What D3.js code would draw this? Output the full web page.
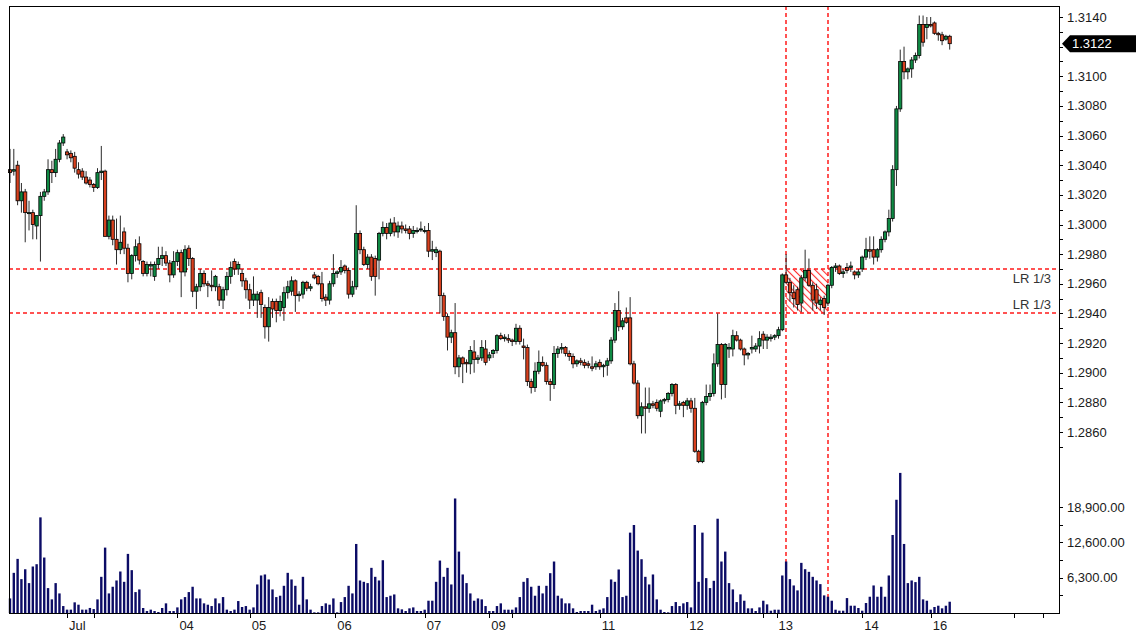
<!DOCTYPE html>
<html>
<head>
<meta charset="utf-8">
<script src="https://cdnjs.cloudflare.com/ajax/libs/d3/7.8.5/d3.min.js"></script>
<style>
body { margin: 0; background: #fff; }
text { font-family: "Liberation Sans", Arial, sans-serif; font-size: 13px; fill: #1a1a1a; }
</style>
</head>
<body>
<svg id="chart" width="1136" height="633"></svg>
<script>

// hourly candles
var opens = [
1.3037,1.3036,1.3040,1.3016,1.3022,1.3008,1.3008,1.2999,1.3006,1.3019,
1.3022,1.3037,1.3035,1.3044,1.3055,1.3049,1.3048,1.3046,1.3037,1.3036,
1.3032,1.3030,1.3027,1.3025,1.3035,1.3036,1.2992,1.3003,1.2990,1.2983,
1.2995,1.2984,1.2967,1.2979,1.2987,1.2975,1.2967,1.2972,1.2965,1.2973,
1.2977,1.2979,1.2974,1.2966,1.2975,1.2981,1.2968,1.2984,1.2977,1.2955,
1.2958,1.2967,1.2960,1.2959,1.2958,1.2958,1.2949,1.2956,1.2965,1.2975,
1.2970,1.2967,1.2962,1.2956,
1.2949,1.2949,1.2954,1.2944,1.2931,1.2948,1.2948,1.2942,1.2944,1.2954,
1.2955,1.2962,1.2952,1.2953,1.2961,1.2957,1.2966,1.2965,1.2960,1.2951,
1.2949,1.2960,1.2967,1.2968,1.2972,1.2969,1.2953,1.2958,1.2994,1.2983,
1.2973,1.2978,1.2977,1.2976,1.2994,1.2998,1.2994,1.3001,1.2995,1.2999,
1.2997,1.2997,1.2994,1.2996,1.2997,1.2996,1.2996,1.2982,1.2981,
1.2982,1.2952,1.2938,1.2924,1.2927,1.2904,1.2910,1.2907,1.2906,1.2914,
1.2909,1.2910,1.2916,1.2910,1.2913,1.2915,1.2925,1.2923,1.2923,1.2922,
1.2921,1.2930,1.2918,1.2917,1.2894,1.2890,1.2901,1.2907,1.2905,1.2894,
1.2892,1.2913,1.2916,1.2917,1.2913,1.2911,1.2906,1.2908,1.2907,1.2906,
1.2904,1.2904,1.2907,1.2904,1.2905,1.2908,1.2922,1.2942,1.2931,1.2937,
1.2937,1.2906,1.2893,1.2871,1.2877,1.2876,1.2879,1.2880,
1.2874,1.2881,1.2882,1.2886,1.2892,1.2878,1.2880,1.2878,1.2881,1.2876,1.2847,
1.2840,1.2880,1.2884,1.2886,1.2906,1.2919,1.2892,1.2916,1.2916,1.2925,
1.2922,1.2916,1.2912,1.2916,1.2916,1.2918,1.2926,1.2922,1.2923,1.2924,1.2925,1.2929,
1.2966,1.2961,1.2954,1.2956,1.2947,1.2964,1.2969,1.2959,1.2956,1.2946,
1.2950,1.2947,1.2959,1.2971,1.2972,1.2967,1.2971,1.2971,1.2968,1.2966,
1.2970,1.2978,1.2983,1.2983,1.2978,1.2983,1.2990,1.2995,1.3004,1.3037,
1.3078,1.3110,1.3103,1.3105,1.3111,1.3114,1.3135,1.3133,1.3135,1.3136,
1.3129,1.3128,1.3125,1.3127
];

var highs = [
1.3051,1.3051,1.3043,1.3028,1.3024,1.3016,1.3010,1.3006,1.3022,1.3024,
1.3044,1.3043,1.3051,1.3057,1.3061,1.3051,1.3050,1.3049,1.3042,1.3038,
1.3036,1.3032,1.3028,1.3038,1.3053,1.3037,1.3006,1.3006,1.3004,1.3006,
1.2998,1.2987,1.2980,1.2990,1.2992,1.2976,1.2975,1.2975,1.2975,1.2985,
1.2985,1.2982,1.2976,1.2982,1.2983,1.2983,1.2986,1.2986,1.2978,1.2960,
1.2970,1.2969,1.2962,1.2969,1.2966,1.2960,1.2958,1.2968,1.2975,1.2977,
1.2975,1.2970,1.2964,1.2960,
1.2965,1.2955,1.2956,1.2946,1.2951,1.2950,1.2950,1.2952,1.2958,1.2962,
1.2965,1.2963,1.2955,1.2962,1.2962,1.2960,1.2968,1.2966,1.2968,1.2953,
1.2962,1.2980,1.2969,1.2976,1.2973,1.2971,1.2962,1.3013,1.2996,1.2985,
1.2980,1.2980,1.2979,1.2995,1.3002,1.3001,1.3004,1.3005,1.3002,1.3002,
1.3000,1.2999,1.2999,1.2998,1.3002,1.2999,1.3001,1.2989,1.2985,
1.2983,1.2954,1.2940,1.2929,1.2947,1.2912,1.2911,1.2909,1.2918,1.2922,
1.2912,1.2922,1.2922,1.2914,1.2916,1.2926,1.2927,1.2926,1.2926,1.2923,
1.2933,1.2932,1.2923,1.2919,1.2896,1.2907,1.2915,1.2911,1.2907,1.2896,
1.2918,1.2918,1.2920,1.2918,1.2915,1.2913,1.2909,1.2910,1.2909,1.2908,
1.2911,1.2908,1.2909,1.2906,1.2910,1.2924,1.2947,1.2955,1.2937,1.2944,
1.2951,1.2908,1.2895,1.2880,1.2890,1.2890,1.2881,1.2882,
1.2882,1.2883,1.2887,1.2893,1.2893,1.2881,1.2881,1.2883,1.2883,1.2883,1.2848,
1.2881,1.2892,1.2892,1.2913,1.2940,1.2920,1.2920,1.2920,1.2929,1.2928,
1.2923,1.2917,1.2914,1.2925,1.2920,1.2928,1.2928,1.2926,1.2926,1.2926,1.2931,1.2967,
1.2980,1.2964,1.2959,1.2958,1.2966,1.2983,1.2977,1.2961,1.2960,1.2951,
1.2952,1.2960,1.2972,1.2974,1.2973,1.2970,1.2974,1.2975,1.2969,1.2970,
1.2979,1.2991,1.2992,1.2992,1.2984,1.2992,1.2996,1.3010,1.3040,1.3080,
1.3118,1.3120,1.3106,1.3113,1.3116,1.3141,1.3141,1.3140,1.3140,1.3137,
1.3130,1.3130,1.3128,1.3128
];

var lows = [
1.3028,1.3033,1.3013,1.3008,1.2988,1.2996,1.2990,1.2990,1.2975,1.3016,
1.3020,1.3028,1.3032,1.3042,1.3053,1.3044,1.3042,1.3035,1.3031,1.3030,
1.3027,1.3025,1.3022,1.3024,1.3030,1.2992,1.2990,1.2986,1.2973,1.2980,
1.2980,1.2961,1.2963,1.2975,1.2973,1.2965,1.2965,1.2965,1.2962,1.2970,
1.2972,1.2972,1.2961,1.2964,1.2972,1.2951,1.2965,1.2972,1.2951,1.2943,
1.2955,1.2958,1.2951,1.2955,1.2955,1.2945,1.2943,1.2952,1.2960,1.2966,
1.2966,1.2958,1.2950,1.2943,
1.2945,1.2937,1.2937,1.2923,1.2921,1.2937,1.2934,1.2938,1.2935,1.2950,
1.2952,1.2941,1.2948,1.2950,1.2955,1.2955,1.2963,1.2959,1.2948,1.2945,
1.2946,1.2958,1.2964,1.2966,1.2967,1.2950,1.2951,1.2956,1.2980,1.2972,
1.2970,1.2962,1.2952,1.2963,1.2992,1.2990,1.2992,1.2992,1.2991,1.2994,
1.2994,1.2990,1.2991,1.2994,1.2995,1.2994,1.2978,1.2976,1.2978,
1.2940,1.2935,1.2915,1.2920,1.2899,1.2897,1.2893,1.2900,1.2899,1.2900,
1.2906,1.2908,1.2905,1.2908,1.2910,1.2913,1.2922,1.2921,1.2920,1.2918,
1.2919,1.2919,1.2909,1.2891,1.2886,1.2887,1.2899,1.2904,1.2892,1.2881,
1.2889,1.2910,1.2913,1.2911,1.2908,1.2903,1.2904,1.2905,1.2903,1.2903,
1.2901,1.2902,1.2902,1.2897,1.2898,1.2906,1.2920,1.2928,1.2929,1.2933,
1.2905,1.2892,1.2869,1.2859,1.2859,1.2873,1.2876,1.2874,
1.2870,1.2879,1.2880,1.2884,1.2872,1.2875,1.2870,1.2875,1.2873,1.2846,1.2839,
1.2839,1.2878,1.2881,1.2884,1.2904,1.2882,1.2883,1.2910,1.2911,1.2921,
1.2915,1.2905,1.2909,1.2913,1.2914,1.2913,1.2916,1.2916,1.2921,1.2922,1.2923,1.2928,
1.2960,1.2948,1.2944,1.2942,1.2941,1.2962,1.2958,1.2942,1.2943,1.2942,
1.2939,1.2945,1.2957,1.2968,1.2966,1.2964,1.2967,1.2968,1.2963,1.2964,
1.2968,1.2976,1.2977,1.2973,1.2975,1.2981,1.2988,1.2992,1.3002,1.3026,
1.3076,1.3098,1.3098,1.3099,1.3109,1.3112,1.3120,1.3125,1.3133,1.3128,
1.3124,1.3121,1.3124,1.3118
];

var closes = [
1.3035,1.3037,1.3016,1.3022,1.3008,1.3008,1.3000,1.3006,1.3019,1.3022,
1.3037,1.3035,1.3044,1.3055,1.3059,1.3047,1.3045,1.3038,1.3034,1.3032,
1.3028,1.3027,1.3025,1.3035,1.3036,1.2992,1.3003,1.2990,1.2983,1.2988,
1.2984,1.2967,1.2979,1.2985,1.2976,1.2967,1.2973,1.2973,1.2973,1.2977,
1.2979,1.2974,1.2966,1.2975,1.2981,1.2968,1.2983,1.2977,1.2955,1.2958,
1.2967,1.2960,1.2959,1.2958,1.2965,1.2949,1.2956,1.2965,1.2971,1.2970,
1.2973,1.2962,1.2956,1.2949,
1.2953,1.2953,1.2946,1.2931,1.2944,1.2943,1.2942,1.2948,1.2954,1.2958,
1.2962,1.2952,1.2953,1.2961,1.2957,1.2958,1.2964,1.2960,1.2950,1.2949,
1.2960,1.2967,1.2968,1.2971,1.2969,1.2953,1.2958,1.2994,1.2983,1.2973,
1.2978,1.2965,1.2965,1.2994,1.2998,1.2994,1.3001,1.2995,1.2999,1.2997,
1.2996,1.2994,1.2996,1.2996,1.2997,1.2996,1.2982,1.2983,1.2983,
1.2952,1.2938,1.2924,1.2927,1.2904,1.2910,1.2906,1.2906,1.2915,1.2909,
1.2910,1.2917,1.2907,1.2912,1.2915,1.2925,1.2923,1.2924,1.2922,1.2921,
1.2930,1.2921,1.2917,1.2894,1.2890,1.2901,1.2907,1.2905,1.2894,1.2892,
1.2913,1.2916,1.2917,1.2913,1.2911,1.2906,1.2908,1.2907,1.2905,1.2905,
1.2903,1.2906,1.2904,1.2905,1.2908,1.2922,1.2942,1.2931,1.2935,1.2934,
1.2906,1.2893,1.2871,1.2877,1.2876,1.2879,1.2878,1.2876,
1.2881,1.2882,1.2886,1.2892,1.2878,1.2879,1.2878,1.2881,1.2876,1.2847,1.2840,
1.2880,1.2884,1.2886,1.2906,1.2919,1.2892,1.2919,1.2917,1.2925,1.2922,
1.2916,1.2912,1.2913,1.2917,1.2918,1.2923,1.2922,1.2924,1.2924,1.2925,1.2929,1.2966,
1.2961,1.2954,1.2950,1.2946,1.2964,1.2969,1.2959,1.2949,1.2947,1.2949,
1.2944,1.2959,1.2971,1.2972,1.2967,1.2968,1.2969,1.2972,1.2966,1.2968,
1.2978,1.2983,1.2982,1.2978,1.2983,1.2990,1.2995,1.3004,1.3037,1.3078,
1.3110,1.3103,1.3105,1.3111,1.3114,1.3135,1.3123,1.3135,1.3134,1.3129,
1.3128,1.3124,1.3127,1.3122
];

var volumes = [
2600,7160,9650,6040,7800,5330,8290,8700,17050,9890,
4440,2430,5330,3490,1240,600,600,1900,1480,600,
600,900,700,2430,6450,11660,3490,4680,5800,7400,
5560,10540,7640,3730,4200,890,350,600,350,180,
890,1720,350,350,1000,2430,2840,3730,4680,2600,
2600,1720,1480,1240,2600,1720,2840,600,350,600,
2130,1070,1240,600,1000,5090,6690,6870,5980,4200,
2840,3080,4850,7160,5980,4850,1480,6450,2430,600,
120,120,1240,1720,1480,2600,120,1950,2840,4850,
3490,12310,5800,5560,5330,8050,6450,5800,9410,2840,
3080,3310,830,650,355,830,1000,355,355,590,
2190,2190,5560,9350,6450,8050,5090,20420,10950,6870,
5330,3490,2190,2600,2430,1240,355,355,1240,1720,
590,590,590,1000,2840,5560,6220,4680,3080,4850,
3490,4850,7100,9180,3080,2600,1720,1720,830,180,
355,355,355,1480,355,590,830,2840,5980,5560,
7760,2840,3080,14330,15690,11130,9590,6450,5090,6870,
2430,590,180,120,1240,1950,1240,1720,1950,1000,
15690,5560,14330,6220,4440,5740,16810,9180,10950,5330,
4200,1950,3320,2190,830,830,355,1000,2190,1540,
410,590,590,6690,9180,6040,4910,4030,8940,7810,
7340,6450,5800,5150,3140,2900,2190,590,410,410,
2660,1300,1300,890,410,1780,2900,4910,2900,4680,
2900,6690,13910,20190,24980,12310,5330,5800,5510,6450,
2430,2190,590,1070,1300,830,1300,2010
];

// x axis: candle index of each tick and its label ('' = tick only)
var tickIdx  = [15, 22, 44, 63, 85.5, 109, 126, 132, 155, 178, 198, 201.5, 224, 242, 264, 271.5];
var tickText = ['Jul', '', '04', '05', '06', '07', '09', '', '11', '12', '', '13', '14', '16', '', ''];

// right axis levels
var priceLabels = [1.2860, 1.2880, 1.2900, 1.2920, 1.2940, 1.2960, 1.2980, 1.3000,
                   1.3020, 1.3040, 1.3060, 1.3080, 1.3100, 1.3140];
var volLabels = [6300, 12600, 18900];
var volMinor = [3150, 9450, 15750];

// the two LR 1/3 levels and the candle range of the drawn box
var lrLevels = [1.2970, 1.2940];
var lrStartIdx = 204;
var lrEndIdx = 215;

// frame of the plot
var frame = {left: 9, right: 1059, top: 6, bottom: 613};

var svg = d3.select('#chart');

var xScale = d3.scaleLinear()
    .domain([0, opens.length - 1])
    .range([10, 949.7]);
var yPrice = d3.scaleLinear()
    .domain([1.2860, 1.3140])
    .range([432, 17]);
var yVol = d3.scaleLinear()
    .domain([0, 18900])
    .range([frame.bottom, 507]);

var red = '#ff1a1a';

// hatch pattern for the LR box
var defs = svg.append('defs');
defs.append('pattern')
    .attr('id', 'hatch')
    .attr('patternUnits', 'userSpaceOnUse')
    .attr('width', 5)
    .attr('height', 5)
    .attr('patternTransform', 'rotate(-45)')
  .append('line')
    .attr('x1', 0.5).attr('y1', 0)
    .attr('x2', 0.5).attr('y2', 5)
    .style('stroke', '#ff3030')
    .style('stroke-width', 1.2);

svg.append('rect')
    .attr('x', xScale(lrStartIdx))
    .attr('y', yPrice(lrLevels[0]))
    .attr('width', xScale(lrEndIdx) - xScale(lrStartIdx))
    .attr('height', yPrice(lrLevels[1]) - yPrice(lrLevels[0]))
    .attr('fill', 'url(#hatch)');

// dashed level lines
svg.selectAll('.lrLine')
    .data(lrLevels)
    .enter().append('line')
    .attr('class', 'lrLine')
    .attr('x1', frame.left)
    .attr('x2', frame.right)
    .attr('y1', function(d){ return Math.round(yPrice(d)); })
    .attr('y2', function(d){ return Math.round(yPrice(d)); })
    .style('stroke', red)
    .style('stroke-width', 1.5)
    .style('stroke-dasharray', '4,3');

svg.selectAll('.lrVert')
    .data([lrStartIdx, lrEndIdx])
    .enter().append('line')
    .attr('class', 'lrVert')
    .attr('x1', function(d){ return Math.round(xScale(d)); })
    .attr('x2', function(d){ return Math.round(xScale(d)); })
    .attr('y1', frame.top)
    .attr('y2', frame.bottom)
    .style('stroke', red)
    .style('stroke-width', 1.5)
    .style('stroke-dasharray', '4,3');

svg.selectAll('.lrText')
    .data(lrLevels)
    .enter().append('text')
    .attr('class', 'lrText')
    .attr('x', 1051)
    .attr('y', function(d, i){ return i == 0 ? yPrice(d) + 14 : yPrice(d) - 4; })
    .attr('text-anchor', 'end')
    .style('fill', '#333')
    .text('LR 1/3');

// volume bars
svg.append('g')
    .selectAll('rect')
    .data(volumes)
    .enter().append('rect')
    .attr('x', function(d, i){ return xScale(i) - 1.2; })
    .attr('y', function(d){ return yVol(d); })
    .attr('width', 2.4)
    .attr('height', function(d){ return frame.bottom - yVol(d); })
    .attr('fill', '#0c0c66');

// candles
var idx = d3.range(opens.length);
var candles = svg.append('g');

candles.selectAll('.wick')
    .data(idx)
    .enter().append('line')
    .attr('class', 'wick')
    .attr('x1', function(i){ return xScale(i); })
    .attr('x2', function(i){ return xScale(i); })
    .attr('y1', function(i){ return yPrice(highs[i]); })
    .attr('y2', function(i){ return yPrice(lows[i]); })
    .style('stroke', '#2a2a2a')
    .style('stroke-width', 1);

candles.selectAll('.body')
    .data(idx)
    .enter().append('rect')
    .attr('class', 'body')
    .attr('x', function(i){ return xScale(i) - 1.6; })
    .attr('y', function(i){ return yPrice(Math.max(opens[i], closes[i])); })
    .attr('width', 3.2)
    .attr('height', function(i){
        return Math.max(1, Math.abs(yPrice(opens[i]) - yPrice(closes[i])));
    })
    .attr('fill', function(i){ return closes[i] >= opens[i] ? '#0f8a44' : '#d8401e'; })
    .style('stroke', '#000')
    .style('stroke-width', 0.8);

// frame
svg.append('rect')
    .attr('x', frame.left + 0.5)
    .attr('y', frame.top + 0.5)
    .attr('width', frame.right - frame.left)
    .attr('height', frame.bottom - frame.top)
    .attr('fill', 'none')
    .style('stroke', '#000');

// right price axis
var priceMinor = d3.range(1.2850, 1.31405, 0.001);
svg.selectAll('.pMinor')
    .data(priceMinor)
    .enter().append('line')
    .attr('class', 'pMinor')
    .attr('x1', frame.right + 0.5)
    .attr('x2', frame.right + 4)
    .attr('y1', function(d){ return Math.round(yPrice(d)) + 0.5; })
    .attr('y2', function(d){ return Math.round(yPrice(d)) + 0.5; })
    .style('stroke', '#000');

svg.selectAll('.pLabel')
    .data(priceLabels)
    .enter().append('text')
    .attr('class', 'pLabel')
    .attr('x', 1067)
    .attr('y', function(d){ return yPrice(d) + 4.5; })
    .text(function(d){ return d3.format('.4f')(d); });

// volume axis
svg.selectAll('.vTick')
    .data(volLabels.concat(volMinor))
    .enter().append('line')
    .attr('class', 'vTick')
    .attr('x1', frame.right + 0.5)
    .attr('x2', frame.right + 4)
    .attr('y1', function(d){ return Math.round(yVol(d)) + 0.5; })
    .attr('y2', function(d){ return Math.round(yVol(d)) + 0.5; })
    .style('stroke', '#000');

svg.selectAll('.vLabel')
    .data(volLabels)
    .enter().append('text')
    .attr('class', 'vLabel')
    .attr('x', 1067)
    .attr('y', function(d){ return yVol(d) + 4.5; })
    .text(function(d){ return d3.format(',.2f')(d); });

// last price marker
var lastY = yPrice(closes[closes.length - 1]);
svg.append('path')
    .attr('d', 'M' + (frame.right + 3) + ',' + lastY +
               'L' + (frame.right + 11) + ',' + (lastY - 8.5) +
               'L1136,' + (lastY - 8.5) +
               'L1136,' + (lastY + 8.5) +
               'L' + (frame.right + 11) + ',' + (lastY + 8.5) + 'Z')
    .attr('fill', '#000');
svg.append('text')
    .attr('x', 1072)
    .attr('y', lastY + 4.5)
    .style('fill', '#fff')
    .text(d3.format('.4f')(closes[closes.length - 1]));

// bottom axis ticks and day labels
svg.selectAll('.xTick')
    .data(tickIdx)
    .enter().append('line')
    .attr('class', 'xTick')
    .attr('x1', function(d){ return Math.round(xScale(d)) + 0.5; })
    .attr('x2', function(d){ return Math.round(xScale(d)) + 0.5; })
    .attr('y1', frame.bottom)
    .attr('y2', frame.bottom + 5)
    .style('stroke', '#000');

svg.selectAll('.xLabel')
    .data(tickIdx)
    .enter().append('text')
    .attr('class', 'xLabel')
    .attr('x', function(d){ return xScale(d) + 2; })
    .attr('y', 630)
    .text(function(d, i){ return tickText[i]; });

</script>
</body>
</html>
